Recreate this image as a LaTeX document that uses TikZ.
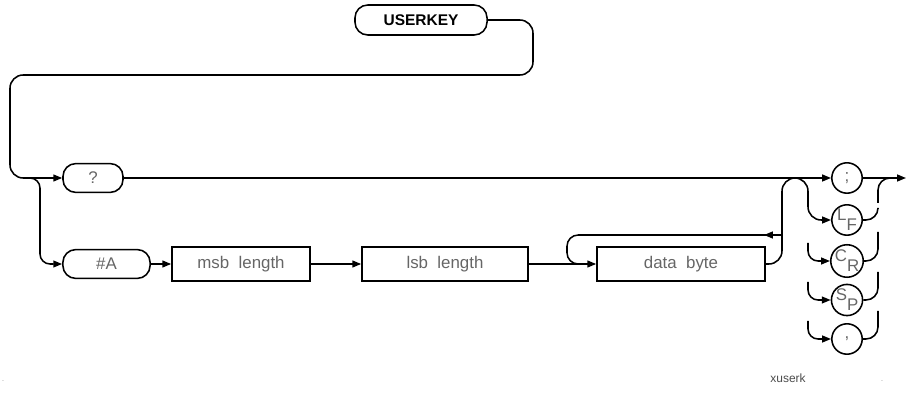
\documentclass[tikz,border=0pt]{standalone}
\usepackage{fontspec}
\setmainfont{Liberation Sans}
\usetikzlibrary{arrows.meta,decorations.markings}
\tikzset{
  line/.style={line width=1.1pt},
  arr/.style={-{Triangle[length=2.2mm,width=1.7mm]}},
  keybox/.style={draw,line width=1.1pt,rounded corners=0.32cm,minimum width=3.3cm,
                 minimum height=0.75cm,inner sep=0pt,font=\fontsize{11}{13}\selectfont\bfseries},
  litbox/.style={draw,line width=1.1pt,rounded corners=0.32cm,minimum height=0.72cm,
                 inner sep=0pt,text=black!60,font=\fontsize{12}{14}\selectfont},
  varbox/.style={draw,line width=1.1pt,minimum height=0.85cm,inner sep=0pt,
                 text=black!60,font=\fontsize{12}{14}\selectfont},
  termcirc/.style={draw,circle,line width=1.1pt,minimum size=0.76cm,inner sep=0pt,
                   text=black!60,font=\fontsize{12}{14}\selectfont},
  looparrow/.style={postaction={decorate},
                    decoration={markings, mark=at position 0.07 with {\arrow{Triangle[length=2.2mm,width=1.7mm]}}}}
}

\begin{document}
\begin{tikzpicture}[x=0.025cm,y=-0.025cm]
    \useasboundingbox (0,0) rectangle (906,405);

    % keyword and literals
    \node[keybox] (userkey) at (421,20) {USERKEY};
    \node[litbox,minimum width=1.5cm] (query) at (93,178) {?};
    \node[litbox,minimum width=2.18cm] (hasha) at (106.5,264) {\#A};

    \node[varbox,minimum width=3.45cm] (msb) at (241,264) {msb\ \ length};
    \node[varbox,minimum width=4.15cm] (lsb) at (445,264) {lsb\ \ length};
    \node[varbox,minimum width=4.2cm] (data) at (681,264) {data\ \ byte};

    % terminators
    \node[termcirc] (semi) at (847,178) {;};
    \node[termcirc] (lf) at (847,220) {\raisebox{0.5ex}{L}\raisebox{-0.6ex}{F}};
    \node[termcirc] (cr) at (847,261) {\raisebox{0.5ex}{C}\raisebox{-0.6ex}{R}};
    \node[termcirc] (sp) at (847,300) {\raisebox{0.5ex}{S}\raisebox{-0.6ex}{P}};
    \node[termcirc] (comma) at (847,339) {,};

    \coordinate (split) at (28,178);
    \coordinate (exit) at (906,178);

    \draw[line,arr,rounded corners=0.33cm] (userkey.east) -- (533,20) -- (533,75)
        -- (10,75) -- (10,178) -- (query.west);
    \draw[line,arr,rounded corners=0.25cm] (split) -- (40,178) -- (40,264) -- (hasha.west);
    \draw[line,arr] (query.east) -- (semi.west);
    \draw[line,arr] (hasha.east) -- (msb.west);
    \draw[line,arr] (msb.east) -- (lsb.west);
    \draw[line,arr] (lsb.east) -- (data.west);

    % repeat loop
    \draw[line,looparrow,rounded corners=0.28cm] (782,235) -- (567,235) -- (567,264) -- (590,264);
    \draw[line,arr,rounded corners=0.33cm] (data.east) -- (782,264) -- (782,178)
        -- (808,178) -- (808,220) -- (lf.west);

    % left stubs
    \draw[line,arr,rounded corners=0.25cm] (808,243) -- (808,261) -- (cr.west);
    \draw[line,arr,rounded corners=0.25cm] (808,282) -- (808,300) -- (sp.west);
    \draw[line,arr,rounded corners=0.25cm] (808,321) -- (808,339) -- (comma.west);

    % right stubs
    \draw[line,arr] (semi.east) -- (exit);
    \draw[line,rounded corners=0.3cm] (892,178) -- (878,178) -- (878,203);
    \draw[line,rounded corners=0.3cm] (lf.east) -- (878,220) -- (878,209);
    \draw[line,rounded corners=0.3cm] (cr.east) -- (878,261) -- (878,232);
    \draw[line,rounded corners=0.3cm] (sp.east) -- (878,300) -- (878,272);
    \draw[line,rounded corners=0.3cm] (comma.east) -- (878,339) -- (878,311);

    \node[text=black!70,font=\fontsize{8.5}{10}\selectfont] (figtag) at (788,378) {xuserk};
    \node[font=\tiny,text=black!50] (dotl) at (3,381) {.};
    \node[font=\tiny,text=black!50] (dotr) at (882,381) {.};
\end{tikzpicture}
\end{document}
